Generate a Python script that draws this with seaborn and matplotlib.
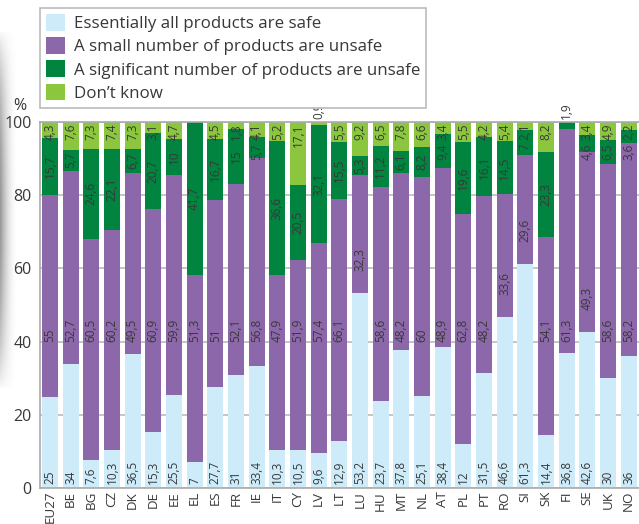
import numpy as np
import pandas as pd
import matplotlib
matplotlib.use("Agg")
import matplotlib.pyplot as plt
import seaborn as sns

# Dados (percentagens)
countries = ["EU27", "BE", "BG", "CZ", "DK", "DE", "EE", "EL", "ES", "FR", "IE", "IT", "CY", "LV",
             "LT", "LU", "HU", "MT", "NL", "AT", "PL", "PT", "RO", "SI", "SK", "FI", "SE", "UK", "NO"]
safe = [25, 34, 7.6, 10.3, 36.5, 15.3, 25.5, 7, 27.7, 31, 33.4, 10.3, 10.5, 9.6,
        12.9, 53.2, 23.7, 37.8, 25.1, 38.4, 12, 31.5, 46.6, 61.3, 14.4, 36.8, 42.6, 30, 36]
small = [55, 52.7, 60.5, 60.2, 49.5, 60.9, 59.9, 51.3, 51, 52.1, 56.8, 47.9, 51.9, 57.4,
         66.1, 32.3, 58.6, 48.2, 60, 48.9, 62.8, 48.2, 33.6, 29.6, 54.1, 61.3, 49.3, 58.6, 58.2]
significant = [15.7, 5.7, 24.6, 22.1, 6.7, 20.7, 10, 41.7, 16.7, 15, 5.7, 36.6, 20.5, 32.1,
               15.5, 5.3, 11.2, 6.1, 8.2, 9.4, 19.6, 16.1, 14.5, 7, 23.3, 1.9, 4.6, 6.5, 3.6]
dont_know = [4.3, 7.6, 7.3, 7.4, 7.3, 3.1, 4.7, 0, 4.5, 1.8, 4.1, 5.2, 17.1, 0.9,
             5.5, 9.2, 6.5, 7.8, 6.6, 3.4, 5.5, 4.2, 5.4, 2.1, 8.2, 0, 3.4, 4.9, 2.2]
legend_labels = ["Essentially all products are safe", "A small number of products are unsafe",
                 "A significant number of products are unsafe", "Don\u2019t know"]
colors = ["#CDEBF9", "#8C68AA", "#00843F", "#8CC63F"]

df = pd.DataFrame({"country": countries, "safe": safe, "small": small,
                   "significant": significant, "dont_know": dont_know})
df["c1"] = df["safe"]
df["c2"] = df["c1"] + df["small"]
df["c3"] = df["c2"] + df["significant"]
df["c4"] = df["c3"] + df["dont_know"]

sns.set_style("white")
plt.rcParams["font.family"] = ["Open Sans", "DejaVu Sans"]
text_col = "#383838"


def fmt(v):
    return f"{v:g}".replace(".", ",")


def text_len(s):
    # comprimento aproximado do texto rodado, em unidades do eixo y
    return sum(6.7 if ch.isdigit() else 3 for ch in s) / 3.66


fig = plt.figure(figsize=(6.39, 5.24), dpi=100)
ax = fig.add_axes([40 / 639, 36 / 524, 1 - 40 / 639, (489 - 123) / 524])

# Barras empilhadas: desenhar os totais acumulados do maior para o menor
for col, color in zip(["c4", "c3", "c2", "c1"], colors[::-1]):
    sns.barplot(data=df, x="country", y=col, color=color, saturation=1, width=0.77,
                linewidth=0, ax=ax, zorder=2)

ax.set_xlim(-0.48, 28.32)
ax.set_ylim(0, 100)
ax.set_xlabel("")
ax.set_ylabel("")
ax.set_yticks([0, 20, 40, 60, 80, 100])
ax.yaxis.grid(True, color="#BBBBBB", linewidth=1.2, zorder=0)
ax.set_axisbelow(True)
ax.tick_params(axis="y", length=0, labelsize=11.5, labelcolor=text_col, pad=6)
ax.tick_params(axis="x", which="major", length=0, labelsize=9.6, labelcolor=text_col,
               labelrotation=90, pad=2)
ax.set_xticks(np.arange(len(countries)) + 0.5, minor=True)
ax.tick_params(axis="x", which="minor", direction="in", length=7, width=1, color="#AAAAAA")
for side in ["left", "top", "bottom"]:
    ax.spines[side].set_color("#AAAAAA")
    ax.spines[side].set_linewidth(1.2)
ax.spines["right"].set_visible(False)

# Rótulos de valores
lab = dict(rotation=90, ha="center", fontsize=8.5, color=text_col, zorder=5)
for i, r in df.iterrows():
    ax.text(i, 1, fmt(r["safe"]), va="bottom", **lab)
    y_small = 40 if r["safe"] < 40 else r["safe"] + 6
    ax.text(i, y_small, fmt(r["small"]), va="bottom", **lab)

    sig_txt = fmt(r["significant"])
    if r["dont_know"] == 0 and r["significant"] < 5:
        ax.text(i, 100.8, sig_txt, va="bottom", clip_on=False, **lab)
    else:
        mid = (r["c2"] + min(r["c3"], 100)) / 2
        if r["dont_know"] >= 1:
            limit = 99.5 - text_len(fmt(r["dont_know"])) - 0.8
            mid = min(mid, limit - text_len(sig_txt) / 2)
        ax.text(i, mid, sig_txt, va="center", **lab)

    if r["dont_know"] == 0:
        continue
    if r["dont_know"] < 1:
        ax.text(i, 100.8, fmt(r["dont_know"]), va="bottom", clip_on=False, **lab)
    else:
        ax.text(i, 99.5, fmt(r["dont_know"]), va="top", **lab)

# Legenda
handles = [plt.Rectangle((0, 0), 1, 1, facecolor=c, edgecolor="none") for c in colors]
leg = fig.legend(handles, legend_labels, loc="upper left",
                 bbox_to_anchor=(40 / 639, 1 - 8 / 524), fontsize=12.2,
                 frameon=True, fancybox=False, edgecolor="#BBBBBB", framealpha=1,
                 borderpad=0.35, handlelength=1.15, handleheight=1.15, handletextpad=0.5,
                 labelspacing=0.3, borderaxespad=0)
leg.get_frame().set_linewidth(1.2)
for t in leg.get_texts():
    t.set_color(text_col)

fig.text(20 / 639, 1 - 106 / 524, "%", fontsize=11.5, color=text_col, ha="center", va="center")

# Sombra cinzenta na margem esquerda (da página digitalizada)
sh = fig.add_axes([0, 1 - 390 / 524, 18 / 639, 360 / 524])
xx = np.linspace(0, 1, 40)
yy = np.linspace(0, 1, 200)
X, Y = np.meshgrid(xx, yy)
alpha = (1 - X) ** 2 * np.sin(np.pi * Y) ** 0.7 * 0.75
img = np.zeros((200, 40, 4))
img[..., :3] = 0.45
img[..., 3] = alpha
sh.imshow(img, aspect="auto", extent=(0, 1, 0, 1))
sh.set_axis_off()

fig.savefig("out.png", dpi=100)
